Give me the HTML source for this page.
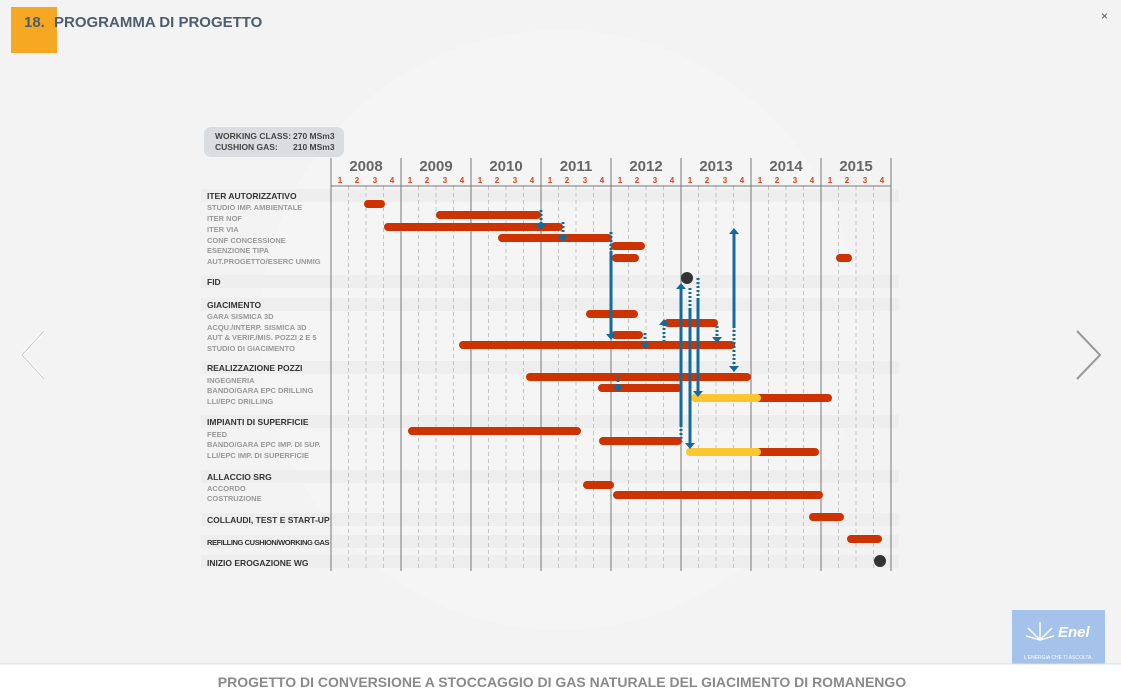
<!DOCTYPE html>
<html><head><meta charset="utf-8"><style>
body{margin:0;width:1121px;height:700px;overflow:hidden;background:#f3f3f3;font-family:"Liberation Sans",sans-serif}
</style></head><body>
<svg width="1121" height="700" xmlns="http://www.w3.org/2000/svg" font-family="Liberation Sans, sans-serif" style="display:block">
<rect width="1121" height="700" fill="#f3f3f3"/>
<circle cx="560" cy="330" r="300" fill="#f5f5f5"/>
<rect x="11" y="7" width="46" height="46" fill="#f7a823"/>
<text x="24" y="27" font-size="15" font-weight="bold" fill="#4a5e70">18.</text>
<text x="54" y="27" font-size="15" font-weight="bold" fill="#4a5e70">PROGRAMMA DI PROGETTO</text>
<text x="1101" y="20" font-size="12" fill="#555">×</text>
<polyline points="44,331 22,355 44,379" fill="none" stroke="#fff" stroke-width="3"/>
<polyline points="44,331 22,355 44,379" fill="none" stroke="#ccc" stroke-width="1"/>
<polyline points="1077,331 1100,355 1077,379" fill="none" stroke="#999" stroke-width="2"/>
<rect x="204" y="127" width="140" height="30" rx="7" fill="#dadddf"/>
<text x="215" y="139" font-size="8.5" font-weight="bold" fill="#444">WORKING CLASS:</text><text x="293" y="139" font-size="8.5" font-weight="bold" fill="#444">270 MSm3</text>
<text x="215" y="150" font-size="8.5" font-weight="bold" fill="#444">CUSHION GAS:</text><text x="293" y="150" font-size="8.5" font-weight="bold" fill="#444">210 MSm3</text>
<g fill="#eeeeee">
<rect x="201" y="189" width="698" height="13"/><rect x="201" y="275" width="698" height="13"/><rect x="201" y="298" width="698" height="13"/>
<rect x="201" y="361" width="698" height="13"/><rect x="201" y="415" width="698" height="13"/><rect x="201" y="470" width="698" height="13"/>
<rect x="201" y="513" width="698" height="13"/><rect x="201" y="535" width="698" height="13"/><rect x="201" y="555" width="698" height="13"/>
</g>
<g stroke="#bbb" stroke-dasharray="4,3" stroke-width="0.8">
<line x1="348.5" y1="186" x2="348.5" y2="571"/><line x1="366" y1="186" x2="366" y2="571"/><line x1="383.5" y1="186" x2="383.5" y2="571"/>
<line x1="418.5" y1="186" x2="418.5" y2="571"/><line x1="436" y1="186" x2="436" y2="571"/><line x1="453.5" y1="186" x2="453.5" y2="571"/>
<line x1="488.5" y1="186" x2="488.5" y2="571"/><line x1="506" y1="186" x2="506" y2="571"/><line x1="523.5" y1="186" x2="523.5" y2="571"/>
<line x1="558.5" y1="186" x2="558.5" y2="571"/><line x1="576" y1="186" x2="576" y2="571"/><line x1="593.5" y1="186" x2="593.5" y2="571"/>
<line x1="628.5" y1="186" x2="628.5" y2="571"/><line x1="646" y1="186" x2="646" y2="571"/><line x1="663.5" y1="186" x2="663.5" y2="571"/>
<line x1="698.5" y1="186" x2="698.5" y2="571"/><line x1="716" y1="186" x2="716" y2="571"/><line x1="733.5" y1="186" x2="733.5" y2="571"/>
<line x1="768.5" y1="186" x2="768.5" y2="571"/><line x1="786" y1="186" x2="786" y2="571"/><line x1="803.5" y1="186" x2="803.5" y2="571"/>
<line x1="838.5" y1="186" x2="838.5" y2="571"/><line x1="856" y1="186" x2="856" y2="571"/><line x1="873.5" y1="186" x2="873.5" y2="571"/>
</g>
<g stroke="#777" stroke-width="1">
<line x1="331" y1="158" x2="331" y2="571"/><line x1="401" y1="158" x2="401" y2="571"/><line x1="471" y1="158" x2="471" y2="571"/><line x1="541" y1="158" x2="541" y2="571"/>
<line x1="611" y1="158" x2="611" y2="571"/><line x1="681" y1="158" x2="681" y2="571"/><line x1="751" y1="158" x2="751" y2="571"/><line x1="821" y1="158" x2="821" y2="571"/><line x1="891" y1="158" x2="891" y2="571"/>
<line x1="331" y1="186" x2="891" y2="186"/>
</g>
<g font-size="15" font-weight="bold" fill="#666" text-anchor="middle">
<text x="366" y="171">2008</text><text x="436" y="171">2009</text><text x="506" y="171">2010</text><text x="576" y="171">2011</text>
<text x="646" y="171">2012</text><text x="716" y="171">2013</text><text x="786" y="171">2014</text><text x="856" y="171">2015</text>
</g>
<g font-size="8" font-weight="bold" fill="#d9431b" text-anchor="middle">
<text x="340" y="183">1</text><text x="357" y="183">2</text><text x="375" y="183">3</text><text x="392" y="183">4</text>
<text x="410" y="183">1</text><text x="427" y="183">2</text><text x="445" y="183">3</text><text x="462" y="183">4</text>
<text x="480" y="183">1</text><text x="497" y="183">2</text><text x="515" y="183">3</text><text x="532" y="183">4</text>
<text x="550" y="183">1</text><text x="567" y="183">2</text><text x="585" y="183">3</text><text x="602" y="183">4</text>
<text x="620" y="183">1</text><text x="637" y="183">2</text><text x="655" y="183">3</text><text x="672" y="183">4</text>
<text x="690" y="183">1</text><text x="707" y="183">2</text><text x="725" y="183">3</text><text x="742" y="183">4</text>
<text x="760" y="183">1</text><text x="777" y="183">2</text><text x="795" y="183">3</text><text x="812" y="183">4</text>
<text x="830" y="183">1</text><text x="847" y="183">2</text><text x="865" y="183">3</text><text x="882" y="183">4</text>
</g>
<g font-size="8.5" font-weight="bold" fill="#333">
<text x="207" y="199">ITER AUTORIZZATIVO</text><text x="207" y="285">FID</text><text x="207" y="308">GIACIMENTO</text>
<text x="207" y="371">REALIZZAZIONE POZZI</text><text x="207" y="425">IMPIANTI DI SUPERFICIE</text><text x="207" y="480">ALLACCIO SRG</text>
<text x="207" y="523">COLLAUDI, TEST E START-UP</text><text x="207" y="545" font-size="7.5" letter-spacing="-0.4">REFILLING CUSHION/WORKING GAS</text><text x="207" y="566">INIZIO EROGAZIONE WG</text>
</g>
<g font-size="7.5" font-weight="bold" fill="#999">
<text x="207" y="210">STUDIO IMP. AMBIENTALE</text><text x="207" y="221">ITER NOF</text><text x="207" y="232">ITER VIA</text>
<text x="207" y="243">CONF CONCESSIONE</text><text x="207" y="253">ESENZIONE TIPA</text><text x="207" y="264">AUT.PROGETTO/ESERC UNMIG</text>
<text x="207" y="319">GARA SISMICA 3D</text><text x="207" y="330">ACQU./INTERP. SISMICA 3D</text><text x="207" y="340">AUT &amp; VERIF./MIS. POZZI 2 E 5</text>
<text x="207" y="351">STUDIO DI GIACIMENTO</text><text x="207" y="383">INGEGNERIA</text><text x="207" y="393">BANDO/GARA EPC DRILLING</text>
<text x="207" y="404">LLI/EPC DRILLING</text><text x="207" y="437">FEED</text><text x="207" y="447">BANDO/GARA EPC IMP. DI SUP.</text>
<text x="207" y="458">LLI/EPC IMP. DI SUPERFICIE</text><text x="207" y="491">ACCORDO</text><text x="207" y="501">COSTRUZIONE</text>
</g>
<g stroke="#cc3300" stroke-width="8" stroke-linecap="round">
<line x1="368" y1="204" x2="381" y2="204"/><line x1="440" y1="215" x2="537" y2="215"/><line x1="388" y1="227" x2="559" y2="227"/>
<line x1="502" y1="238" x2="608" y2="238"/><line x1="615" y1="246" x2="641" y2="246"/><line x1="616" y1="258" x2="635" y2="258"/>
<line x1="840" y1="258" x2="848" y2="258"/><line x1="590" y1="314" x2="634" y2="314"/><line x1="668" y1="323" x2="714" y2="323"/>
<line x1="615" y1="335" x2="639" y2="335"/><line x1="463" y1="345" x2="731" y2="345"/><line x1="530" y1="377" x2="747" y2="377"/>
<line x1="602" y1="388" x2="678" y2="388"/><line x1="758" y1="398" x2="828" y2="398"/><line x1="412" y1="431" x2="577" y2="431"/>
<line x1="603" y1="441" x2="678" y2="441"/><line x1="758" y1="452" x2="815" y2="452"/><line x1="587" y1="485" x2="610" y2="485"/>
<line x1="617" y1="495" x2="819" y2="495"/><line x1="813" y1="517" x2="840" y2="517"/><line x1="851" y1="539" x2="878" y2="539"/>
</g>
<g stroke="#fcc72e" stroke-width="8" stroke-linecap="round">
<line x1="695" y1="398" x2="757" y2="398"/><line x1="690" y1="452" x2="757" y2="452"/>
</g>
<circle cx="687" cy="278" r="6" fill="#333"/><circle cx="880" cy="561" r="6" fill="#333"/>
<g stroke="#136a9c" stroke-width="3" fill="none">
<line x1="611" y1="251" x2="611" y2="334"/><line x1="734" y1="234" x2="734" y2="326"/>
<line x1="681" y1="289" x2="681" y2="425"/><line x1="690" y1="308" x2="690" y2="444"/><line x1="698" y1="298" x2="698" y2="391"/>
</g>
<g stroke="#136a9c" stroke-width="3" stroke-dasharray="2,2" fill="none">
<line x1="541" y1="210" x2="541" y2="224"/><line x1="563" y1="222" x2="563" y2="236"/><line x1="611" y1="232" x2="611" y2="251"/>
<line x1="645" y1="333" x2="645" y2="344"/><line x1="664" y1="324" x2="664" y2="341"/><line x1="717" y1="326" x2="717" y2="338"/>
<line x1="618" y1="376" x2="618" y2="387"/><line x1="734" y1="326" x2="734" y2="367"/><line x1="681" y1="425" x2="681" y2="442"/>
<line x1="690" y1="288" x2="690" y2="308"/><line x1="698" y1="278" x2="698" y2="298"/>
</g>
<g fill="#136a9c">
<polygon points="536,224 546,224 541,230"/><polygon points="558,236 568,236 563,242"/><polygon points="606,334 616,334 611,340"/>
<polygon points="640,343 650,343 645,349"/><polygon points="659,325 669,325 664,319"/><polygon points="712,337 722,337 717,343"/>
<polygon points="613,386 623,386 618,392"/><polygon points="729,234 739,234 734,228"/><polygon points="729,366 739,366 734,372"/>
<polygon points="676,289 686,289 681,283"/><polygon points="685,443 695,443 690,449"/><polygon points="693,391 703,391 698,397"/>
</g>
<rect x="1012" y="610" width="93" height="55" fill="#a4c2ea"/>
<text x="1058" y="637" font-size="15" font-style="italic" font-weight="bold" fill="#fff">Enel</text>
<text x="1024" y="659" font-size="5" fill="#fff">L'ENERGIA CHE TI ASCOLTA.</text>
<g stroke="#fff" stroke-width="1.5"><line x1="1040" y1="640" x2="1040" y2="622"/><line x1="1040" y1="640" x2="1028" y2="628"/><line x1="1040" y1="640" x2="1052" y2="628"/><line x1="1040" y1="640" x2="1026" y2="636"/><line x1="1040" y1="640" x2="1054" y2="636"/></g>
<rect x="0" y="664" width="1121" height="36" fill="#fff"/>
<line x1="0" y1="664" x2="1121" y2="664" stroke="#ddd"/>
<text x="562" y="687" font-size="14" font-weight="bold" fill="#8a8a8a" text-anchor="middle">PROGETTO DI CONVERSIONE A STOCCAGGIO DI GAS NATURALE DEL GIACIMENTO DI ROMANENGO</text>
</svg>
</body></html>
